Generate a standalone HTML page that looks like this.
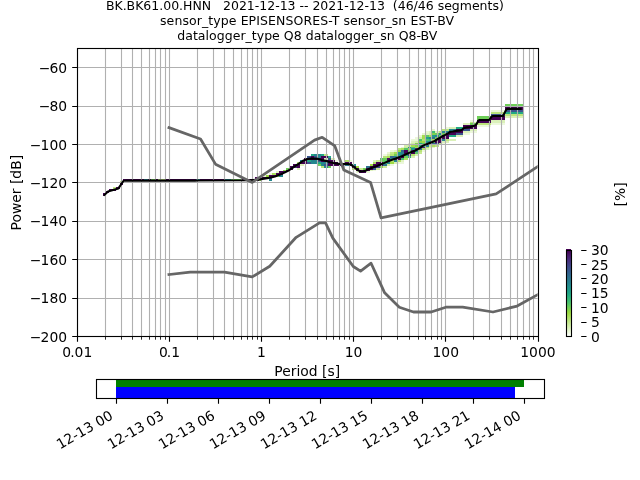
<!DOCTYPE html>
<html><head><meta charset="utf-8"><title>PPSD</title>
<style>html,body{margin:0;padding:0;background:#fff}body{width:640px;height:480px;overflow:hidden}</style></head>
<body>
<svg width="640" height="480" viewBox="0 0 640 480" style="display:block" font-family='DejaVu Sans, Liberation Sans, sans-serif' font-size="13.89">
<rect width="640" height="480" fill="#fff"/>
<defs><clipPath id="c"><rect x="76.8" y="48.0" width="460.8" height="288.0"/></clipPath>
<linearGradient id="g" x1="0" y1="0" x2="0" y2="1"><stop offset="0.000" stop-color="#440154"/><stop offset="0.025" stop-color="#460b5e"/><stop offset="0.050" stop-color="#481769"/><stop offset="0.075" stop-color="#482071"/><stop offset="0.100" stop-color="#472a7a"/><stop offset="0.125" stop-color="#46337f"/><stop offset="0.150" stop-color="#433d84"/><stop offset="0.175" stop-color="#404588"/><stop offset="0.200" stop-color="#3d4e8a"/><stop offset="0.225" stop-color="#39558c"/><stop offset="0.250" stop-color="#355e8d"/><stop offset="0.275" stop-color="#31668e"/><stop offset="0.300" stop-color="#2e6d8e"/><stop offset="0.325" stop-color="#2b748e"/><stop offset="0.350" stop-color="#297b8e"/><stop offset="0.375" stop-color="#26828e"/><stop offset="0.400" stop-color="#23898e"/><stop offset="0.425" stop-color="#21918c"/><stop offset="0.450" stop-color="#1f978b"/><stop offset="0.475" stop-color="#1f9f88"/><stop offset="0.500" stop-color="#21a685"/><stop offset="0.525" stop-color="#26ad81"/><stop offset="0.550" stop-color="#2fb47c"/><stop offset="0.575" stop-color="#3aba76"/><stop offset="0.600" stop-color="#48c16e"/><stop offset="0.625" stop-color="#56c667"/><stop offset="0.650" stop-color="#67cc5c"/><stop offset="0.675" stop-color="#77d153"/><stop offset="0.700" stop-color="#8bd646"/><stop offset="0.725" stop-color="#9cda40"/><stop offset="0.750" stop-color="#a5dd51"/><stop offset="0.775" stop-color="#aee063"/><stop offset="0.800" stop-color="#b7e474"/><stop offset="0.825" stop-color="#c0e785"/><stop offset="0.850" stop-color="#c9eb97"/><stop offset="0.875" stop-color="#d2eea8"/><stop offset="0.900" stop-color="#dbf1b9"/><stop offset="0.925" stop-color="#e4f5cb"/><stop offset="0.950" stop-color="#edf8dc"/><stop offset="0.975" stop-color="#f6fcee"/><stop offset="1.000" stop-color="#ffffff"/></linearGradient></defs>
<g clip-path="url(#c)">
<g shape-rendering="crispEdges"><rect x="103" y="195" width="3" height="1" fill="#440154"/><rect x="103" y="193" width="3" height="2" fill="#440154"/><rect x="106" y="191" width="3" height="2" fill="#440154"/><rect x="109" y="189" width="4" height="2" fill="#440154"/><rect x="113" y="189" width="3" height="2" fill="#440154"/><rect x="113" y="187" width="3" height="2" fill="#c2e889"/><rect x="116" y="187" width="4" height="2" fill="#440154"/><rect x="120" y="183" width="3" height="2" fill="#440154"/><rect x="120" y="181" width="3" height="2" fill="#bde680"/><rect x="123" y="179" width="4" height="2" fill="#440154"/><rect x="127" y="179" width="3" height="2" fill="#440154"/><rect x="130" y="179" width="4" height="2" fill="#440154"/><rect x="134" y="179" width="3" height="2" fill="#440154"/><rect x="137" y="179" width="4" height="2" fill="#440154"/><rect x="141" y="179" width="3" height="2" fill="#440154"/><rect x="144" y="179" width="4" height="2" fill="#440154"/><rect x="148" y="179" width="3" height="2" fill="#440154"/><rect x="151" y="179" width="4" height="2" fill="#440154"/><rect x="155" y="179" width="3" height="2" fill="#440154"/><rect x="158" y="179" width="3" height="2" fill="#440154"/><rect x="161" y="179" width="4" height="2" fill="#440154"/><rect x="165" y="179" width="3" height="2" fill="#440154"/><rect x="168" y="179" width="4" height="2" fill="#440154"/><rect x="172" y="179" width="3" height="2" fill="#440154"/><rect x="175" y="179" width="4" height="2" fill="#440154"/><rect x="179" y="179" width="3" height="2" fill="#440154"/><rect x="182" y="179" width="4" height="2" fill="#440154"/><rect x="186" y="179" width="3" height="2" fill="#440154"/><rect x="189" y="179" width="4" height="2" fill="#440154"/><rect x="193" y="179" width="3" height="2" fill="#440154"/><rect x="196" y="179" width="4" height="2" fill="#440154"/><rect x="200" y="179" width="3" height="2" fill="#440154"/><rect x="203" y="179" width="4" height="2" fill="#440154"/><rect x="207" y="179" width="3" height="2" fill="#440154"/><rect x="210" y="179" width="3" height="2" fill="#440154"/><rect x="213" y="179" width="4" height="2" fill="#440154"/><rect x="217" y="179" width="3" height="2" fill="#440154"/><rect x="220" y="179" width="4" height="2" fill="#440154"/><rect x="224" y="179" width="3" height="2" fill="#440154"/><rect x="227" y="179" width="4" height="2" fill="#440154"/><rect x="231" y="179" width="3" height="2" fill="#440154"/><rect x="234" y="179" width="4" height="2" fill="#440154"/><rect x="238" y="179" width="3" height="2" fill="#440154"/><rect x="241" y="179" width="4" height="2" fill="#440154"/><rect x="245" y="179" width="3" height="2" fill="#440154"/><rect x="248" y="179" width="4" height="2" fill="#440154"/><rect x="252" y="179" width="3" height="2" fill="#440154"/><rect x="255" y="179" width="4" height="2" fill="#440154"/><rect x="255" y="177" width="4" height="2" fill="#440154"/><rect x="259" y="179" width="3" height="2" fill="#89d548"/><rect x="259" y="177" width="3" height="2" fill="#440154"/><rect x="262" y="177" width="4" height="2" fill="#440154"/><rect x="262" y="175" width="4" height="2" fill="#e8f6d2"/><rect x="266" y="177" width="3" height="2" fill="#440154"/><rect x="266" y="175" width="3" height="2" fill="#9dda41"/><rect x="269" y="177" width="3" height="2" fill="#3d4d8a"/><rect x="269" y="175" width="3" height="2" fill="#440154"/><rect x="269" y="173" width="3" height="2" fill="#ebf8d9"/><rect x="272" y="175" width="4" height="2" fill="#440154"/><rect x="272" y="173" width="4" height="2" fill="#abdf5d"/><rect x="276" y="175" width="3" height="2" fill="#84d44b"/><rect x="276" y="173" width="3" height="2" fill="#440154"/><rect x="276" y="171" width="3" height="2" fill="#e0f3c3"/><rect x="279" y="173" width="4" height="2" fill="#440154"/><rect x="279" y="171" width="4" height="2" fill="#440154"/><rect x="283" y="171" width="3" height="2" fill="#440154"/><rect x="283" y="170" width="3" height="1" fill="#89d548"/><rect x="286" y="170" width="4" height="1" fill="#440154"/><rect x="286" y="168" width="4" height="2" fill="#70cf57"/><rect x="290" y="168" width="3" height="2" fill="#440154"/><rect x="290" y="166" width="3" height="2" fill="#440154"/><rect x="293" y="166" width="4" height="2" fill="#482576"/><rect x="293" y="164" width="4" height="2" fill="#440154"/><rect x="297" y="162" width="3" height="2" fill="#bbe57b"/><rect x="297" y="164" width="3" height="2" fill="#440154"/><rect x="297" y="166" width="3" height="2" fill="#440154"/><rect x="297" y="168" width="3" height="2" fill="#dbf1b9"/><rect x="300" y="160" width="4" height="2" fill="#24868e"/><rect x="300" y="162" width="4" height="2" fill="#440154"/><rect x="300" y="164" width="4" height="2" fill="#dbf1b9"/><rect x="304" y="158" width="3" height="2" fill="#440154"/><rect x="304" y="160" width="3" height="2" fill="#440154"/><rect x="304" y="162" width="3" height="2" fill="#440154"/><rect x="307" y="156" width="4" height="2" fill="#3a548c"/><rect x="307" y="158" width="4" height="2" fill="#440154"/><rect x="307" y="160" width="4" height="2" fill="#23a983"/><rect x="307" y="162" width="4" height="2" fill="#3a548c"/><rect x="311" y="154" width="3" height="2" fill="#23a983"/><rect x="311" y="156" width="3" height="2" fill="#440154"/><rect x="311" y="158" width="3" height="2" fill="#440154"/><rect x="311" y="160" width="3" height="2" fill="#24868e"/><rect x="311" y="162" width="3" height="2" fill="#24868e"/><rect x="314" y="154" width="4" height="2" fill="#24868e"/><rect x="314" y="156" width="4" height="2" fill="#3a548c"/><rect x="314" y="158" width="4" height="2" fill="#440154"/><rect x="314" y="160" width="4" height="2" fill="#24868e"/><rect x="314" y="162" width="4" height="2" fill="#24868e"/><rect x="318" y="154" width="3" height="2" fill="#24868e"/><rect x="318" y="156" width="3" height="2" fill="#24868e"/><rect x="318" y="158" width="3" height="2" fill="#440154"/><rect x="318" y="160" width="3" height="2" fill="#3a548c"/><rect x="318" y="162" width="3" height="2" fill="#23a983"/><rect x="318" y="164" width="3" height="2" fill="#6ece58"/><rect x="321" y="154" width="3" height="2" fill="#23a983"/><rect x="321" y="156" width="3" height="2" fill="#440154"/><rect x="321" y="158" width="3" height="2" fill="#440154"/><rect x="321" y="160" width="3" height="2" fill="#440154"/><rect x="321" y="162" width="3" height="2" fill="#24868e"/><rect x="321" y="164" width="3" height="2" fill="#24868e"/><rect x="321" y="166" width="3" height="2" fill="#bbe57b"/><rect x="324" y="154" width="4" height="2" fill="#bbe57b"/><rect x="324" y="156" width="4" height="2" fill="#440154"/><rect x="324" y="158" width="4" height="2" fill="#dbf1b9"/><rect x="324" y="160" width="4" height="2" fill="#440154"/><rect x="324" y="162" width="4" height="2" fill="#24868e"/><rect x="324" y="164" width="4" height="2" fill="#3a548c"/><rect x="324" y="166" width="4" height="2" fill="#24868e"/><rect x="328" y="156" width="3" height="2" fill="#23a983"/><rect x="328" y="158" width="3" height="2" fill="#3a548c"/><rect x="328" y="160" width="3" height="2" fill="#440154"/><rect x="328" y="162" width="3" height="2" fill="#440154"/><rect x="328" y="164" width="3" height="2" fill="#440154"/><rect x="328" y="166" width="3" height="2" fill="#6ece58"/><rect x="331" y="158" width="4" height="2" fill="#dbf1b9"/><rect x="331" y="160" width="4" height="2" fill="#440154"/><rect x="331" y="162" width="4" height="2" fill="#440154"/><rect x="331" y="164" width="4" height="2" fill="#440154"/><rect x="335" y="160" width="3" height="2" fill="#edf8dc"/><rect x="335" y="162" width="3" height="2" fill="#440154"/><rect x="335" y="164" width="3" height="2" fill="#440154"/><rect x="338" y="164" width="4" height="2" fill="#440154"/><rect x="342" y="164" width="3" height="2" fill="#440154"/><rect x="345" y="164" width="4" height="2" fill="#2a768e"/><rect x="345" y="162" width="4" height="2" fill="#440154"/><rect x="345" y="160" width="4" height="2" fill="#b0e166"/><rect x="349" y="164" width="3" height="2" fill="#440154"/><rect x="349" y="162" width="3" height="2" fill="#440154"/><rect x="349" y="160" width="3" height="2" fill="#ecf8da"/><rect x="352" y="168" width="4" height="2" fill="#b0e166"/><rect x="352" y="166" width="4" height="2" fill="#440154"/><rect x="352" y="164" width="4" height="2" fill="#23888e"/><rect x="356" y="171" width="3" height="2" fill="#e8f6d2"/><rect x="356" y="170" width="3" height="1" fill="#440154"/><rect x="356" y="168" width="3" height="2" fill="#440154"/><rect x="356" y="166" width="3" height="2" fill="#9eda42"/><rect x="359" y="171" width="4" height="2" fill="#440154"/><rect x="359" y="170" width="4" height="1" fill="#440154"/><rect x="359" y="168" width="4" height="2" fill="#c7ea92"/><rect x="363" y="171" width="3" height="2" fill="#440154"/><rect x="363" y="170" width="3" height="1" fill="#440154"/><rect x="363" y="168" width="3" height="2" fill="#6ece58"/><rect x="366" y="171" width="4" height="2" fill="#e9f7d4"/><rect x="366" y="170" width="4" height="1" fill="#440154"/><rect x="366" y="168" width="4" height="2" fill="#440154"/><rect x="366" y="166" width="4" height="2" fill="#2d718e"/><rect x="370" y="170" width="3" height="1" fill="#dff3c0"/><rect x="370" y="168" width="3" height="2" fill="#440154"/><rect x="370" y="166" width="3" height="2" fill="#440154"/><rect x="370" y="164" width="3" height="2" fill="#9bd93c"/><rect x="373" y="170" width="3" height="1" fill="#eff9e0"/><rect x="373" y="168" width="3" height="2" fill="#38598c"/><rect x="373" y="166" width="3" height="2" fill="#440154"/><rect x="373" y="164" width="3" height="2" fill="#440154"/><rect x="373" y="162" width="3" height="2" fill="#abdf5d"/><rect x="373" y="160" width="3" height="2" fill="#e1f4c5"/><rect x="376" y="168" width="4" height="2" fill="#caeb99"/><rect x="376" y="166" width="4" height="2" fill="#423f85"/><rect x="376" y="164" width="4" height="2" fill="#440154"/><rect x="376" y="162" width="4" height="2" fill="#440154"/><rect x="376" y="160" width="4" height="2" fill="#c8ea94"/><rect x="380" y="166" width="3" height="2" fill="#89d548"/><rect x="380" y="164" width="3" height="2" fill="#440154"/><rect x="380" y="162" width="3" height="2" fill="#440154"/><rect x="380" y="160" width="3" height="2" fill="#70cf57"/><rect x="380" y="158" width="3" height="2" fill="#54c568"/><rect x="383" y="166" width="4" height="2" fill="#ccec9c"/><rect x="383" y="164" width="4" height="2" fill="#2c738e"/><rect x="383" y="162" width="4" height="2" fill="#46c06f"/><rect x="383" y="160" width="4" height="2" fill="#5ac864"/><rect x="383" y="158" width="4" height="2" fill="#69cd5b"/><rect x="383" y="156" width="4" height="2" fill="#b9e477"/><rect x="383" y="154" width="4" height="2" fill="#eff9df"/><rect x="387" y="164" width="3" height="2" fill="#d1eea6"/><rect x="387" y="162" width="3" height="2" fill="#228b8d"/><rect x="387" y="160" width="3" height="2" fill="#482374"/><rect x="387" y="158" width="3" height="2" fill="#46075a"/><rect x="387" y="156" width="3" height="2" fill="#aadf5b"/><rect x="387" y="154" width="3" height="2" fill="#d4efac"/><rect x="387" y="152" width="3" height="2" fill="#e9f6d3"/><rect x="390" y="164" width="4" height="2" fill="#eff9e1"/><rect x="390" y="162" width="4" height="2" fill="#9eda43"/><rect x="390" y="160" width="4" height="2" fill="#b2e26a"/><rect x="390" y="158" width="4" height="2" fill="#228d8d"/><rect x="390" y="156" width="4" height="2" fill="#32648e"/><rect x="390" y="154" width="4" height="2" fill="#b6e371"/><rect x="390" y="152" width="4" height="2" fill="#c1e786"/><rect x="390" y="150" width="4" height="2" fill="#eef9de"/><rect x="394" y="162" width="3" height="2" fill="#d8f0b4"/><rect x="394" y="160" width="3" height="2" fill="#24878e"/><rect x="394" y="158" width="3" height="2" fill="#470d60"/><rect x="394" y="156" width="3" height="2" fill="#26818e"/><rect x="394" y="154" width="3" height="2" fill="#73d056"/><rect x="394" y="152" width="3" height="2" fill="#a4dc4e"/><rect x="394" y="150" width="3" height="2" fill="#e4f5ca"/><rect x="397" y="162" width="4" height="2" fill="#ebf8d9"/><rect x="397" y="160" width="4" height="2" fill="#b3e26c"/><rect x="397" y="158" width="4" height="2" fill="#440154"/><rect x="397" y="156" width="4" height="2" fill="#81d34d"/><rect x="397" y="154" width="4" height="2" fill="#20928c"/><rect x="397" y="152" width="4" height="2" fill="#1f998a"/><rect x="397" y="150" width="4" height="2" fill="#9bd93e"/><rect x="397" y="148" width="4" height="2" fill="#bce67d"/><rect x="401" y="162" width="3" height="2" fill="#ecf8da"/><rect x="401" y="160" width="3" height="2" fill="#e1f4c4"/><rect x="401" y="158" width="3" height="2" fill="#42be71"/><rect x="401" y="156" width="3" height="2" fill="#440154"/><rect x="401" y="154" width="3" height="2" fill="#2a778e"/><rect x="401" y="152" width="3" height="2" fill="#26818e"/><rect x="401" y="150" width="3" height="2" fill="#30698e"/><rect x="401" y="148" width="3" height="2" fill="#ace05f"/><rect x="401" y="147" width="3" height="1" fill="#e7f6d0"/><rect x="404" y="158" width="4" height="2" fill="#b0e166"/><rect x="404" y="156" width="4" height="2" fill="#73d056"/><rect x="404" y="154" width="4" height="2" fill="#21a685"/><rect x="404" y="152" width="4" height="2" fill="#440154"/><rect x="404" y="150" width="4" height="2" fill="#440154"/><rect x="404" y="148" width="4" height="2" fill="#50c46a"/><rect x="404" y="147" width="4" height="1" fill="#caeb98"/><rect x="404" y="145" width="4" height="2" fill="#d4efac"/><rect x="408" y="156" width="3" height="2" fill="#31b57b"/><rect x="408" y="154" width="3" height="2" fill="#453781"/><rect x="408" y="152" width="3" height="2" fill="#42be71"/><rect x="408" y="150" width="3" height="2" fill="#5ec962"/><rect x="408" y="148" width="3" height="2" fill="#9eda44"/><rect x="408" y="147" width="3" height="1" fill="#228b8d"/><rect x="408" y="145" width="3" height="2" fill="#ccec9d"/><rect x="408" y="143" width="3" height="2" fill="#e7f6d0"/><rect x="411" y="156" width="4" height="2" fill="#daf1b8"/><rect x="411" y="154" width="4" height="2" fill="#b3e26c"/><rect x="411" y="152" width="4" height="2" fill="#440154"/><rect x="411" y="150" width="4" height="2" fill="#472d7b"/><rect x="411" y="148" width="4" height="2" fill="#20928c"/><rect x="411" y="147" width="4" height="1" fill="#4cc26c"/><rect x="411" y="145" width="4" height="2" fill="#a5dd52"/><rect x="411" y="143" width="4" height="2" fill="#ceeca0"/><rect x="411" y="141" width="4" height="2" fill="#def2bf"/><rect x="411" y="139" width="4" height="2" fill="#ebf7d8"/><rect x="415" y="154" width="3" height="2" fill="#d7f0b2"/><rect x="415" y="152" width="3" height="2" fill="#5ac864"/><rect x="415" y="150" width="3" height="2" fill="#1f968b"/><rect x="415" y="148" width="3" height="2" fill="#472c7a"/><rect x="415" y="147" width="3" height="1" fill="#a6dd53"/><rect x="415" y="145" width="3" height="2" fill="#86d549"/><rect x="415" y="143" width="3" height="2" fill="#84d44b"/><rect x="415" y="141" width="3" height="2" fill="#d6efaf"/><rect x="415" y="139" width="3" height="2" fill="#eaf7d7"/><rect x="415" y="137" width="3" height="2" fill="#ecf8da"/><rect x="418" y="152" width="4" height="2" fill="#c7ea92"/><rect x="418" y="150" width="4" height="2" fill="#b8e475"/><rect x="418" y="148" width="4" height="2" fill="#2e6d8e"/><rect x="418" y="147" width="4" height="1" fill="#440154"/><rect x="418" y="145" width="4" height="2" fill="#2db27d"/><rect x="418" y="143" width="4" height="2" fill="#21a685"/><rect x="418" y="141" width="4" height="2" fill="#8bd646"/><rect x="418" y="139" width="4" height="2" fill="#52c569"/><rect x="418" y="137" width="4" height="2" fill="#d6f0b1"/><rect x="418" y="135" width="4" height="2" fill="#e8f6d2"/><rect x="422" y="150" width="3" height="2" fill="#eff9e1"/><rect x="422" y="148" width="3" height="2" fill="#afe164"/><rect x="422" y="147" width="3" height="1" fill="#481d6f"/><rect x="422" y="145" width="3" height="2" fill="#24aa83"/><rect x="422" y="143" width="3" height="2" fill="#52c569"/><rect x="422" y="141" width="3" height="2" fill="#9eda43"/><rect x="422" y="139" width="3" height="2" fill="#b5e370"/><rect x="422" y="137" width="3" height="2" fill="#a4dd4f"/><rect x="422" y="135" width="3" height="2" fill="#a6dd53"/><rect x="422" y="133" width="3" height="2" fill="#e8f6d2"/><rect x="425" y="148" width="4" height="2" fill="#d9f1b6"/><rect x="425" y="147" width="4" height="1" fill="#aadf5b"/><rect x="425" y="145" width="4" height="2" fill="#297a8e"/><rect x="425" y="143" width="4" height="2" fill="#23898e"/><rect x="425" y="141" width="4" height="2" fill="#1f948c"/><rect x="425" y="139" width="4" height="2" fill="#4ac16d"/><rect x="425" y="137" width="4" height="2" fill="#1fa287"/><rect x="425" y="135" width="4" height="2" fill="#65cb5e"/><rect x="425" y="133" width="4" height="2" fill="#e2f4c6"/><rect x="425" y="131" width="4" height="2" fill="#e9f7d4"/><rect x="429" y="148" width="3" height="2" fill="#eaf7d7"/><rect x="429" y="147" width="3" height="1" fill="#dbf2ba"/><rect x="429" y="145" width="3" height="2" fill="#c7ea93"/><rect x="429" y="143" width="3" height="2" fill="#238a8d"/><rect x="429" y="141" width="3" height="2" fill="#2f6c8e"/><rect x="429" y="139" width="3" height="2" fill="#38b977"/><rect x="429" y="137" width="3" height="2" fill="#25838e"/><rect x="429" y="135" width="3" height="2" fill="#a8de57"/><rect x="429" y="133" width="3" height="2" fill="#d5efae"/><rect x="429" y="131" width="3" height="2" fill="#def2bf"/><rect x="432" y="147" width="3" height="1" fill="#e5f5cd"/><rect x="432" y="145" width="3" height="2" fill="#abdf5c"/><rect x="432" y="143" width="3" height="2" fill="#2f6b8e"/><rect x="432" y="141" width="3" height="2" fill="#63cb5f"/><rect x="432" y="139" width="3" height="2" fill="#aadf59"/><rect x="432" y="137" width="3" height="2" fill="#2c738e"/><rect x="432" y="135" width="3" height="2" fill="#1e9b8a"/><rect x="432" y="133" width="3" height="2" fill="#81d34d"/><rect x="432" y="131" width="3" height="2" fill="#3fbc73"/><rect x="432" y="129" width="3" height="2" fill="#e8f6d2"/><rect x="269" y="179" width="3" height="2" fill="#24868e"/><rect x="279" y="175" width="4" height="2" fill="#24868e"/><rect x="144" y="179" width="4" height="2" fill="#24868e"/><rect x="151" y="179" width="4" height="2" fill="#6ece58"/><rect x="158" y="179" width="3" height="2" fill="#bbe57b"/><rect x="161" y="179" width="4" height="2" fill="#bbe57b"/><rect x="196" y="179" width="4" height="2" fill="#24868e"/><rect x="224" y="179" width="3" height="2" fill="#24868e"/><rect x="227" y="179" width="4" height="2" fill="#24868e"/><rect x="231" y="179" width="3" height="2" fill="#6ece58"/><rect x="234" y="179" width="4" height="2" fill="#6ece58"/><rect x="238" y="179" width="3" height="2" fill="#6ece58"/><rect x="435" y="131" width="4" height="2" fill="#dbf1b9"/><rect x="435" y="133" width="4" height="2" fill="#6ece58"/><rect x="435" y="135" width="4" height="2" fill="#24868e"/><rect x="435" y="137" width="4" height="2" fill="#6ece58"/><rect x="435" y="139" width="4" height="2" fill="#440154"/><rect x="435" y="141" width="4" height="2" fill="#440154"/><rect x="435" y="143" width="4" height="2" fill="#3a548c"/><rect x="435" y="145" width="4" height="2" fill="#bbe57b"/><rect x="439" y="131" width="3" height="2" fill="#bbe57b"/><rect x="439" y="133" width="3" height="2" fill="#24868e"/><rect x="439" y="135" width="3" height="2" fill="#6ece58"/><rect x="439" y="137" width="3" height="2" fill="#440154"/><rect x="439" y="139" width="3" height="2" fill="#440154"/><rect x="439" y="141" width="3" height="2" fill="#440154"/><rect x="439" y="143" width="3" height="2" fill="#bbe57b"/><rect x="442" y="129" width="4" height="2" fill="#bbe57b"/><rect x="442" y="131" width="4" height="2" fill="#24868e"/><rect x="442" y="133" width="4" height="2" fill="#6ece58"/><rect x="442" y="135" width="4" height="2" fill="#440154"/><rect x="442" y="137" width="4" height="2" fill="#440154"/><rect x="442" y="139" width="4" height="2" fill="#24868e"/><rect x="442" y="141" width="4" height="2" fill="#dbf1b9"/><rect x="442" y="143" width="4" height="2" fill="#edf8dc"/><rect x="446" y="127" width="3" height="2" fill="#edf8dc"/><rect x="446" y="129" width="3" height="2" fill="#bbe57b"/><rect x="446" y="131" width="3" height="2" fill="#24868e"/><rect x="446" y="133" width="3" height="2" fill="#440154"/><rect x="446" y="135" width="3" height="2" fill="#440154"/><rect x="446" y="137" width="3" height="2" fill="#440154"/><rect x="446" y="139" width="3" height="2" fill="#bbe57b"/><rect x="446" y="141" width="3" height="2" fill="#dbf1b9"/><rect x="449" y="127" width="7" height="2" fill="#dbf1b9"/><rect x="449" y="129" width="7" height="2" fill="#24868e"/><rect x="449" y="131" width="7" height="2" fill="#440154"/><rect x="449" y="133" width="7" height="2" fill="#440154"/><rect x="449" y="135" width="7" height="2" fill="#23a983"/><rect x="449" y="139" width="7" height="2" fill="#dbf1b9"/><rect x="456" y="127" width="7" height="2" fill="#23a983"/><rect x="456" y="129" width="7" height="2" fill="#440154"/><rect x="456" y="131" width="7" height="2" fill="#440154"/><rect x="456" y="133" width="7" height="2" fill="#3a548c"/><rect x="456" y="135" width="7" height="2" fill="#dbf1b9"/><rect x="463" y="123" width="7" height="2" fill="#dbf1b9"/><rect x="463" y="125" width="7" height="2" fill="#440154"/><rect x="463" y="127" width="7" height="2" fill="#440154"/><rect x="463" y="129" width="7" height="2" fill="#3a548c"/><rect x="463" y="131" width="7" height="2" fill="#dbf1b9"/><rect x="463" y="133" width="7" height="2" fill="#edf8dc"/><rect x="470" y="120" width="3" height="2" fill="#edf8dc"/><rect x="470" y="122" width="3" height="1" fill="#bbe57b"/><rect x="470" y="123" width="3" height="2" fill="#6ece58"/><rect x="470" y="125" width="3" height="2" fill="#440154"/><rect x="470" y="127" width="3" height="2" fill="#440154"/><rect x="470" y="129" width="3" height="2" fill="#dbf1b9"/><rect x="470" y="131" width="3" height="2" fill="#edf8dc"/><rect x="473" y="122" width="4" height="1" fill="#dbf1b9"/><rect x="473" y="123" width="4" height="2" fill="#6ece58"/><rect x="473" y="125" width="4" height="2" fill="#440154"/><rect x="473" y="127" width="4" height="2" fill="#440154"/><rect x="473" y="129" width="4" height="2" fill="#dbf1b9"/><rect x="473" y="131" width="4" height="2" fill="#edf8dc"/><rect x="477" y="116" width="14" height="2" fill="#6ece58"/><rect x="477" y="118" width="14" height="2" fill="#6ece58"/><rect x="477" y="120" width="14" height="2" fill="#440154"/><rect x="477" y="122" width="14" height="1" fill="#440154"/><rect x="477" y="123" width="14" height="2" fill="#bbe57b"/><rect x="477" y="125" width="14" height="2" fill="#edf8dc"/><rect x="491" y="110" width="14" height="2" fill="#edf8dc"/><rect x="491" y="112" width="14" height="2" fill="#bbe57b"/><rect x="491" y="114" width="14" height="2" fill="#3a548c"/><rect x="491" y="116" width="14" height="2" fill="#440154"/><rect x="491" y="118" width="14" height="2" fill="#440154"/><rect x="491" y="120" width="14" height="2" fill="#dbf1b9"/><rect x="491" y="122" width="14" height="1" fill="#dbf1b9"/><rect x="491" y="123" width="14" height="2" fill="#edf8dc"/><rect x="505" y="104" width="18" height="2" fill="#6ece58"/><rect x="505" y="106" width="18" height="2" fill="#440154"/><rect x="505" y="108" width="18" height="2" fill="#440154"/><rect x="505" y="110" width="18" height="2" fill="#3a548c"/><rect x="505" y="112" width="18" height="2" fill="#23a983"/><rect x="505" y="114" width="18" height="2" fill="#bbe57b"/><rect x="505" y="116" width="18" height="2" fill="#dbf1b9"/></g>
<path d="M77.5 48.5 V336.5 M105.5 48.5 V336.5 M121.5 48.5 V336.5 M132.5 48.5 V336.5 M141.5 48.5 V336.5 M149.5 48.5 V336.5 M155.5 48.5 V336.5 M160.5 48.5 V336.5 M165.5 48.5 V336.5 M169.5 48.5 V336.5 M197.5 48.5 V336.5 M213.5 48.5 V336.5 M224.5 48.5 V336.5 M233.5 48.5 V336.5 M241.5 48.5 V336.5 M247.5 48.5 V336.5 M252.5 48.5 V336.5 M257.5 48.5 V336.5 M261.5 48.5 V336.5 M289.5 48.5 V336.5 M305.5 48.5 V336.5 M317.5 48.5 V336.5 M326.5 48.5 V336.5 M333.5 48.5 V336.5 M339.5 48.5 V336.5 M344.5 48.5 V336.5 M349.5 48.5 V336.5 M353.5 48.5 V336.5 M381.5 48.5 V336.5 M397.5 48.5 V336.5 M409.5 48.5 V336.5 M418.5 48.5 V336.5 M425.5 48.5 V336.5 M431.5 48.5 V336.5 M437.5 48.5 V336.5 M441.5 48.5 V336.5 M445.5 48.5 V336.5 M473.5 48.5 V336.5 M489.5 48.5 V336.5 M501.5 48.5 V336.5 M510.5 48.5 V336.5 M517.5 48.5 V336.5 M523.5 48.5 V336.5 M529.5 48.5 V336.5 M533.5 48.5 V336.5 M77.5 336.5 H538.5 M77.5 298.5 H538.5 M77.5 259.5 H538.5 M77.5 221.5 H538.5 M77.5 182.5 H538.5 M77.5 144.5 H538.5 M77.5 106.5 H538.5 M77.5 67.5 H538.5" stroke="#b0b0b0" stroke-width="1.11" fill="none"/>
<polyline points="104.50,194.90 108.00,191.40 111.40,190.40 114.90,189.40 118.40,188.40 123.60,180.75 127.00,180.65 195.00,180.65 198.00,180.45 250.00,180.20 256.25,179.90 262.50,178.90 268.75,177.90 275.00,176.40 280.00,174.60 285.00,172.40 288.00,170.90 291.75,168.30 295.50,165.80 299.25,163.30 303.00,160.80 306.75,159.25 310.50,158.60 314.25,158.50 318.00,158.90 321.75,159.90 325.50,160.80 328.00,161.60 329.75,162.20 333.50,163.00 337.25,163.60 341.00,164.06 348.50,164.06 351.00,164.70 353.50,166.56 356.00,168.75 358.50,170.60 361.00,171.50 363.50,171.30 366.00,170.50 369.50,168.80 373.25,167.25 377.00,166.00 380.75,164.40 384.50,162.90 388.25,161.30 392.00,159.75 395.75,158.40 399.50,157.10 402.25,156.06 409.10,152.90 414.75,150.75 418.50,148.90 421.00,147.00 423.50,145.40 427.25,143.90 431.60,142.30 434.00,141.30 437.75,139.00 441.50,136.80 445.25,134.90 448.40,133.06 450.25,131.80 452.75,131.50 456.50,130.90 460.25,130.56 462.10,129.60 464.00,128.06 466.50,127.40 470.25,127.00 472.75,126.20 475.50,125.30 476.75,123.75 478.30,120.60 479.50,120.00 489.25,120.00 490.50,118.10 491.75,116.40 493.00,115.95 503.20,115.95 504.25,113.40 506.30,109.60 507.25,108.90 520.60,108.90" fill="none" stroke="#000" stroke-width="2.08" stroke-linejoin="round" stroke-linecap="square"/>
<polyline points="168.96,127.68 200.52,139.02 215.51,164.16 252.19,182.40 314.55,140.16 322.20,137.28 334.79,145.92 343.85,169.91 370.56,182.40 381.02,217.91 496.13,193.93 721.92,45.14" fill="none" stroke="#666" stroke-width="2.78" stroke-linejoin="round" stroke-linecap="square"/>
<polyline points="168.96,274.56 190.20,272.06 224.45,272.06 252.19,276.86 269.73,266.30 296.16,237.31 319.50,222.91 325.54,222.91 332.83,238.08 353.28,266.50 360.58,271.10 371.08,263.23 384.66,292.80 399.33,307.20 413.48,312.00 431.16,312.00 445.84,307.20 462.72,307.20 492.98,312.00 517.15,306.05 629.76,243.65 721.92,149.95" fill="none" stroke="#666" stroke-width="2.78" stroke-linejoin="round" stroke-linecap="square"/>
</g>
<rect x="77.5" y="48.5" width="461.0" height="288.0" fill="none" stroke="#000" stroke-width="1.11"/>
<path d="M77.5 336.5 v5.3 M169.5 336.5 v5.3 M261.5 336.5 v5.3 M353.5 336.5 v5.3 M445.5 336.5 v5.3 M538.5 336.5 v5.3 M77.5 336.5 h-5.3 M77.5 298.5 h-5.3 M77.5 259.5 h-5.3 M77.5 221.5 h-5.3 M77.5 182.5 h-5.3 M77.5 144.5 h-5.3 M77.5 106.5 h-5.3 M77.5 67.5 h-5.3" stroke="#000" stroke-width="1.11" fill="none"/>
<path d="M105.5 336.5 v3.2 M121.5 336.5 v3.2 M132.5 336.5 v3.2 M141.5 336.5 v3.2 M149.5 336.5 v3.2 M155.5 336.5 v3.2 M160.5 336.5 v3.2 M165.5 336.5 v3.2 M197.5 336.5 v3.2 M213.5 336.5 v3.2 M224.5 336.5 v3.2 M233.5 336.5 v3.2 M241.5 336.5 v3.2 M247.5 336.5 v3.2 M252.5 336.5 v3.2 M257.5 336.5 v3.2 M289.5 336.5 v3.2 M305.5 336.5 v3.2 M317.5 336.5 v3.2 M326.5 336.5 v3.2 M333.5 336.5 v3.2 M339.5 336.5 v3.2 M344.5 336.5 v3.2 M349.5 336.5 v3.2 M381.5 336.5 v3.2 M397.5 336.5 v3.2 M409.5 336.5 v3.2 M418.5 336.5 v3.2 M425.5 336.5 v3.2 M431.5 336.5 v3.2 M437.5 336.5 v3.2 M441.5 336.5 v3.2 M473.5 336.5 v3.2 M489.5 336.5 v3.2 M501.5 336.5 v3.2 M510.5 336.5 v3.2 M517.5 336.5 v3.2 M523.5 336.5 v3.2 M529.5 336.5 v3.2 M533.5 336.5 v3.2" stroke="#000" stroke-width="0.83" fill="none"/>
<text x="67.08" y="341.60" text-anchor="end">−<tspan dx="-0.9">200</tspan></text>
<text x="67.08" y="303.20" text-anchor="end">−<tspan dx="-0.9">180</tspan></text>
<text x="67.08" y="264.80" text-anchor="end">−<tspan dx="-0.9">160</tspan></text>
<text x="67.08" y="226.40" text-anchor="end">−<tspan dx="-0.9">140</tspan></text>
<text x="67.08" y="188.00" text-anchor="end">−<tspan dx="-0.9">120</tspan></text>
<text x="67.08" y="149.60" text-anchor="end">−<tspan dx="-0.9">100</tspan></text>
<text x="67.08" y="111.20" text-anchor="end">−<tspan dx="-0.9">80</tspan></text>
<text x="67.08" y="72.80" text-anchor="end">−<tspan dx="-0.9">60</tspan></text>
<text x="77.30" y="357.00" text-anchor="middle">0<tspan dx="-1">.01</tspan></text>
<text x="169.46" y="357.00" text-anchor="middle">0<tspan dx="-1">.1</tspan></text>
<text x="261.42" y="357.00" text-anchor="middle">1</text>
<text x="353.58" y="357.00" text-anchor="middle">10</text>
<text x="445.74" y="357.00" text-anchor="middle">100</text>
<text x="537.90" y="357.00" text-anchor="middle">1000</text>
<text x="307.20" y="375.80" text-anchor="middle">Period [s]</text>
<text transform="translate(20.60,192.70) rotate(-90)" text-anchor="middle">Power [dB]</text>
<text x="105.90" y="9.60" font-size="12.5" textLength="397.9" lengthAdjust="spacing" xml:space="preserve" style="white-space:pre">BK.BK61.00.HNN   2021-12-13 -- 2021-12-13  (46/46 segments)</text>
<text x="160.00" y="24.60" font-size="12.5" textLength="294.0" lengthAdjust="spacing" xml:space="preserve" style="white-space:pre">sensor_type EPISENSORES-T sensor_sn EST-BV</text>
<text x="177.30" y="39.60" font-size="12.5" textLength="260.1" lengthAdjust="spacing" xml:space="preserve" style="white-space:pre">datalogger_type Q8 datalogger_sn Q8-BV</text>
<rect x="566" y="249" width="5" height="3" fill="#440154"/>
<rect x="566" y="250.5" width="5.5" height="86" fill="url(#g)"/>
<rect x="566.5" y="250.5" width="5" height="86" fill="none" stroke="#000" stroke-width="1.11"/>
<text x="590.9" y="342.00">0</text>
<text x="590.9" y="327.00">5</text>
<text x="590.9" y="313.00">10</text>
<text x="590.9" y="298.00">15</text>
<text x="590.9" y="284.00">20</text>
<text x="590.9" y="270.00">25</text>
<text x="590.9" y="255.00">30</text>
<path d="M581.2 336.5 h5.3 M581.2 322.5 h5.3 M581.2 307.5 h5.3 M581.2 293.5 h5.3 M581.2 278.5 h5.3 M581.2 264.5 h5.3 M581.2 250.5 h5.3" stroke="#000" stroke-width="1.11" fill="none"/>
<text transform="translate(624.50,194.40) rotate(-90)" text-anchor="middle">[%]</text>
<rect x="116" y="379" width="408" height="8" fill="#008000"/>
<rect x="116" y="387" width="399" height="11.5" fill="#0000ff"/>
<rect x="96.5" y="379.5" width="448.0" height="19.0" fill="none" stroke="#000" stroke-width="1.11"/>
<text transform="translate(113.96,418.30) rotate(-30)" text-anchor="end">12-13 00</text>
<text transform="translate(164.96,418.30) rotate(-30)" text-anchor="end">12-13 03</text>
<text transform="translate(215.96,418.30) rotate(-30)" text-anchor="end">12-13 06</text>
<text transform="translate(266.96,418.30) rotate(-30)" text-anchor="end">12-13 09</text>
<text transform="translate(317.96,418.30) rotate(-30)" text-anchor="end">12-13 12</text>
<text transform="translate(368.96,418.30) rotate(-30)" text-anchor="end">12-13 15</text>
<text transform="translate(419.96,418.30) rotate(-30)" text-anchor="end">12-13 18</text>
<text transform="translate(470.96,418.30) rotate(-30)" text-anchor="end">12-13 21</text>
<text transform="translate(521.96,418.30) rotate(-30)" text-anchor="end">12-14 00</text>
<path d="M116.5 398.5 v5.3 M167.5 398.5 v5.3 M218.5 398.5 v5.3 M269.5 398.5 v5.3 M320.5 398.5 v5.3 M371.5 398.5 v5.3 M422.5 398.5 v5.3 M473.5 398.5 v5.3 M524.5 398.5 v5.3" stroke="#000" stroke-width="1.11" fill="none"/>
</svg>
</body></html>
